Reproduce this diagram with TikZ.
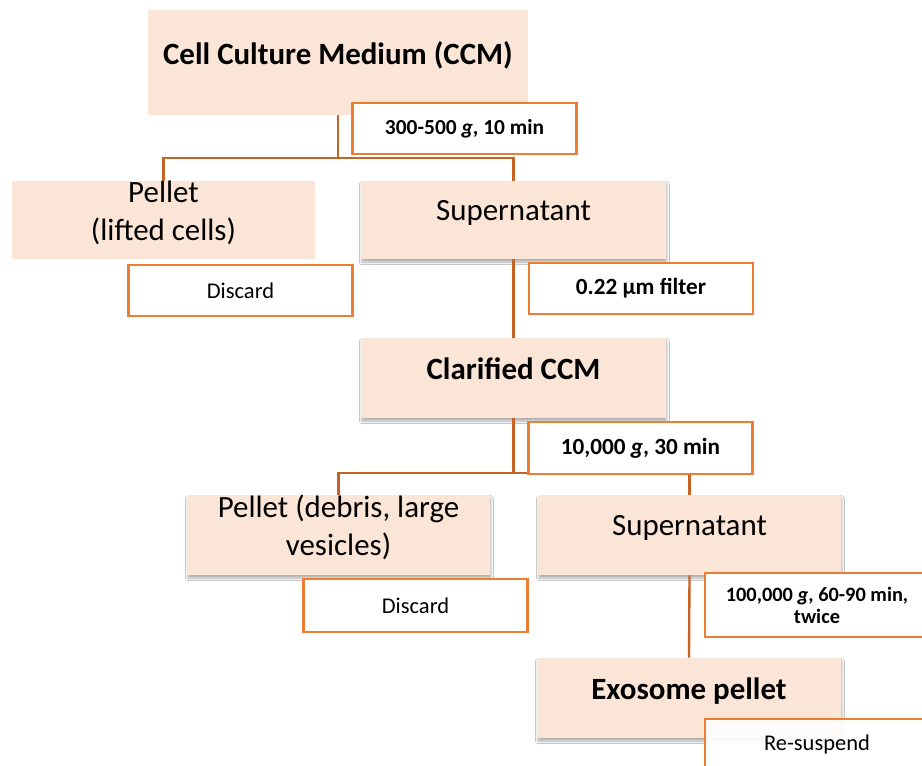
\documentclass[tikz,border=0pt]{standalone}
\usepackage{fontspec}
\setmainfont{Carlito}
\usepackage{tikz}
\usetikzlibrary{shadows.blur}
\definecolor{boxfill}{RGB}{251,229,214}
\definecolor{tagline}{RGB}{237,125,49}
\definecolor{linkline}{RGB}{197,98,38}

\begin{document}
\begin{tikzpicture}[x=0.02cm, y=-0.02cm,
  stage/.style={fill=boxfill, inner sep=0pt, align=center, text depth=0.38cm,
    font=\fontsize{17.6}{21.5}\selectfont},
  stagebold/.style={stage, font=\fontsize{17.6}{21.5}\selectfont\bfseries},
  shadowed/.style={blur shadow={shadow xshift=0.5pt, shadow yshift=-1.8pt,
    shadow blur steps=6, shadow blur radius=1.4pt, shadow opacity=32}},
  tag/.style={draw=tagline, line width=1.2pt, fill=white, inner sep=0pt, align=center,
    minimum width=4.48cm, minimum height=1.02cm, font=\fontsize{12.8}{13}\selectfont},
  tagbold/.style={tag, font=\fontsize{#1}{12.6}\selectfont\bfseries},
  link/.style={draw=linkline, line width=1.35pt}]

  % Frame
  \clip (0,0) rectangle (922,766);
  \fill[white] (0,0) rectangle (922,766);

  % Stages
  \node[stagebold, minimum width=7.6cm, minimum height=2.1cm] (ccm) at (338,62.5) {Cell Culture Medium (CCM)};
  \node[stage, minimum width=6.06cm, minimum height=1.56cm] (pel1) at (163.5,220) {Pellet\\(lifted cells)};
  \node[stage, shadowed, minimum width=6.1cm, minimum height=1.56cm] (sup1) at (513.5,220) {Supernatant};
  \node[stagebold, shadowed, minimum width=6.1cm, minimum height=1.6cm] (clar) at (513.5,378) {Clarified CCM};
  \node[stage, shadowed, minimum width=6.06cm, minimum height=1.6cm] (pel2) at (338.5,535) {Pellet (debris, large\\vesicles)};
  \node[stage, shadowed, minimum width=6.06cm, minimum height=1.6cm] (sup2) at (689.5,535) {Supernatant};
  \node[stagebold, shadowed, minimum width=6.08cm, minimum height=1.6cm] (exo) at (689,698) {Exosome pellet};

  % Split lines
  \coordinate (bus1) at (0,158);
  \coordinate (bus2) at (0,473);
  \draw[link] (ccm.south) -- (ccm.south |- bus1);
  \draw[link] (pel1.north) |- (sup1.north |- bus1) -- (sup1.north);
  \draw[link] (sup1.south) -- (clar.north);
  \draw[link] (clar.south) -- (clar.south |- bus2);
  \draw[link] (pel2.north) |- (sup2.north |- bus2) -- (sup2.north);
  \draw[link] (sup2.south) -- (exo.north);

  % Steps
  \node[tagbold=12.2] (spin1) at (464.5,128.5) {300-500 \textit{g}, 10 min};
  \node[tag] (bin1) at (240.5,290.5) {Discard};
  \node[tagbold=13.2] (filt) at (641,288.5) {0.22 µm filter};
  \node[tagbold=13.2, minimum height=1.04cm] (spin2) at (640.5,448) {10,000 \textit{g}, 30 min};
  \node[tag, minimum height=1.06cm] (bin2) at (415.5,605.5) {Discard};
  \node[tagbold=11.6, minimum height=1.28cm] (spin3) at (817,605) {100,000 \textit{g}, 60-90 min,\\twice};
  \node[tag, fill opacity=0.9, text opacity=1] (resus) at (817,744.5) {Re-suspend};
\end{tikzpicture}
\end{document}
